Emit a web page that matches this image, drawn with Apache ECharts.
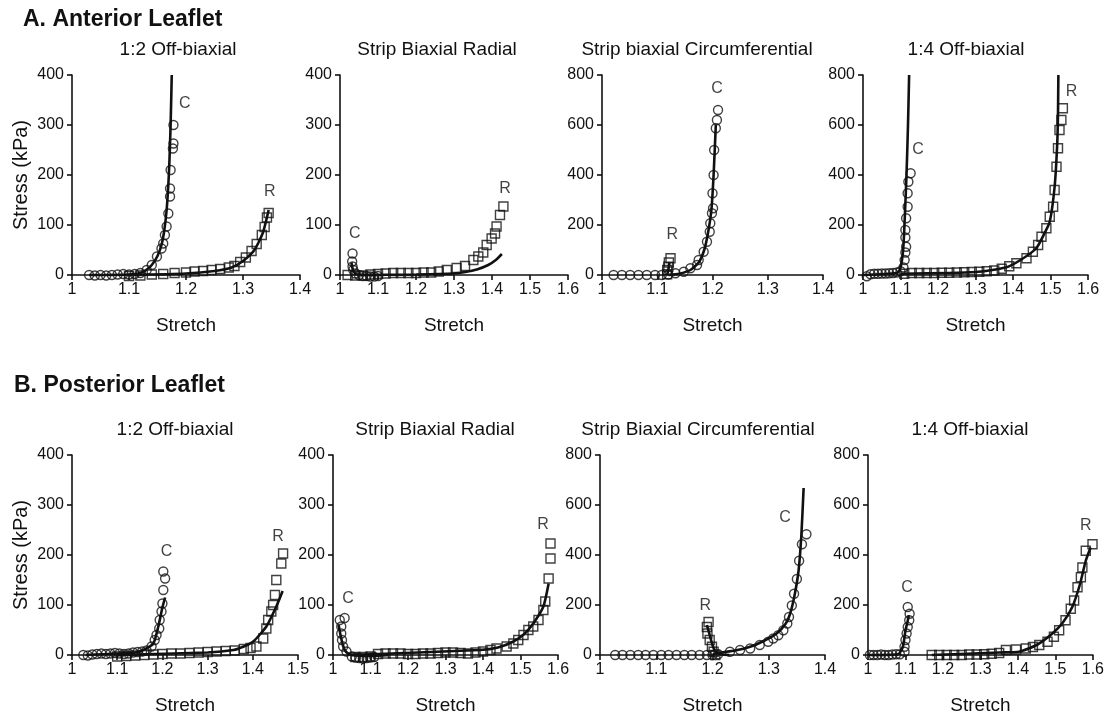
<!DOCTYPE html>
<html>
<head>
<meta charset="utf-8">
<script src="https://cdn.jsdelivr.net/npm/echarts@6/dist/echarts.min.js"></script>
<style>
html, body { margin: 0; background: #fff; }
#main { width: 1107px; height: 718px; }
</style>
</head>
<body>
<div id="main"></div>
<script>
// A. anterior leaflet - 1:2 off-biaxial
var a1C = [[1.03,0],[1.04,-1],[1.05,0],[1.06,-1],[1.07,0],[1.08,1],[1.09,2],[1.10,1],[1.11,2],[1.12,4],[1.131,10],[1.14,20],[1.149,37],[1.157,53],[1.160,63],[1.163,80],[1.166,97],[1.169,123],[1.172,157],[1.172,173],[1.173,210],[1.177,253],[1.178,263],[1.178,300]];
var a1CFit = [[1.03,0],[1.10,1],[1.12,4],[1.13,10],[1.14,20],[1.15,38],[1.157,60],[1.162,90],[1.166,130],[1.169,180],[1.171,230],[1.173,300],[1.175,400]];
var a1R = [[1.10,-2],[1.12,-1],[1.14,1],[1.16,2],[1.18,4],[1.20,5],[1.215,7],[1.23,8],[1.245,10],[1.26,12],[1.275,15],[1.285,18],[1.295,26],[1.305,35],[1.315,48],[1.324,62],[1.333,80],[1.338,96],[1.342,115],[1.345,124]];
var a1RFit = [[1.10,0],[1.20,3],[1.25,8],[1.28,15],[1.30,28],[1.32,50],[1.335,85],[1.345,130]];

// A. strip biaxial radial
var a2C = [[1.033,43],[1.032,27],[1.033,17],[1.035,10],[1.04,3],[1.05,0],[1.06,-2],[1.07,-2],[1.08,-3],[1.09,-3],[1.10,-2]];
var a2CFit = [[1.03,25],[1.035,8],[1.045,1],[1.10,0]];
var a2R = [[1.02,0],[1.04,-1],[1.06,-1],[1.08,1],[1.10,2],[1.12,3],[1.14,4],[1.16,4],[1.18,4],[1.20,4],[1.22,5],[1.24,5],[1.26,7],[1.281,10],[1.307,14],[1.329,18],[1.351,30],[1.364,37],[1.377,45],[1.386,60],[1.399,73],[1.408,83],[1.412,97],[1.421,120],[1.43,137]];
var a2RFit = [[1.05,0],[1.20,1],[1.30,3],[1.33,6],[1.36,11],[1.39,20],[1.41,30],[1.426,42]];

// A. strip biaxial circumferential
var a3C = [[1.021,0],[1.036,0],[1.051,0],[1.066,0],[1.081,0],[1.096,0],[1.108,0],[1.12,2],[1.133,7],[1.148,13],[1.160,27],[1.172,40],[1.175,60],[1.184,93],[1.19,133],[1.195,173],[1.196,207],[1.199,247],[1.201,267],[1.20,327],[1.202,400],[1.203,500],[1.206,587],[1.208,620],[1.21,660]];
var a3CFit = [[1.12,0],[1.14,5],[1.16,20],[1.175,50],[1.185,100],[1.192,170],[1.198,260],[1.202,400],[1.206,600]];
var a3R = [[1.118,3],[1.118,20],[1.12,33],[1.121,50],[1.124,67]];
var a3RFit = [[1.118,0],[1.12,20],[1.122,50]];

// A. 1:4 off-biaxial
var a4C = [[1.01,-5],[1.02,3],[1.03,5],[1.04,5],[1.05,6],[1.06,6],[1.07,7],[1.08,8],[1.09,10],[1.10,15],[1.108,30],[1.111,60],[1.113,90],[1.115,113],[1.113,150],[1.113,180],[1.115,227],[1.119,273],[1.119,327],[1.121,373],[1.127,407]];
var a4CFit = [[1.0,0],[1.09,8],[1.098,20],[1.104,60],[1.108,120],[1.112,250],[1.116,400],[1.12,600],[1.123,800]];
var a4R = [[1.11,5],[1.13,8],[1.15,8],[1.17,8],[1.19,8],[1.21,9],[1.23,9],[1.25,10],[1.27,11],[1.29,12],[1.31,13],[1.33,15],[1.35,18],[1.37,25],[1.39,35],[1.409,47],[1.436,67],[1.453,93],[1.467,120],[1.476,153],[1.489,187],[1.498,233],[1.507,273],[1.511,340],[1.516,433],[1.52,507],[1.524,580],[1.529,620],[1.533,667]];
var a4RFit = [[1.10,5],[1.30,12],[1.38,30],[1.42,60],[1.462,107],[1.485,170],[1.498,213],[1.511,353],[1.518,527],[1.52,650],[1.521,800]];

// B. posterior leaflet - 1:2 off-biaxial
var b1C = [[1.025,0],[1.035,-1],[1.045,1],[1.055,2],[1.065,3],[1.075,2],[1.085,3],[1.095,4],[1.105,3],[1.115,2],[1.125,3],[1.135,5],[1.145,6],[1.155,7],[1.165,9],[1.176,17],[1.183,30],[1.187,40],[1.193,53],[1.194,70],[1.198,87],[1.20,103],[1.202,130],[1.206,153],[1.202,167]];
var b1CFit = [[1.03,0],[1.14,5],[1.158,10],[1.18,23],[1.191,57],[1.20,95],[1.206,115]];
var b1R = [[1.10,-3],[1.12,-2],[1.14,-1],[1.16,0],[1.18,1],[1.20,2],[1.22,3],[1.24,3],[1.26,4],[1.28,5],[1.30,6],[1.32,7],[1.34,8],[1.36,9],[1.38,12],[1.395,14],[1.408,17],[1.423,33],[1.43,53],[1.434,70],[1.441,87],[1.445,100],[1.449,120],[1.452,150],[1.463,183],[1.467,203]];
var b1RFit = [[1.10,0],[1.30,5],[1.357,10],[1.38,17],[1.401,27],[1.43,57],[1.452,97],[1.466,128]];

// B. strip biaxial radial
var b2C = [[1.018,70],[1.031,74],[1.022,57],[1.022,43],[1.024,30],[1.027,17],[1.036,7],[1.05,-3],[1.06,-5],[1.07,-6],[1.08,-7],[1.09,-6],[1.10,-5],[1.11,-4]];
var b2CFit = [[1.015,60],[1.02,40],[1.027,18],[1.035,6],[1.05,0],[1.10,-2],[1.15,0]];
var b2R = [[1.06,-4],[1.08,-4],[1.10,-3],[1.12,2],[1.14,3],[1.16,3],[1.18,3],[1.20,2],[1.22,2],[1.24,3],[1.26,3],[1.28,4],[1.30,5],[1.32,5],[1.34,4],[1.36,3],[1.38,5],[1.40,7],[1.42,10],[1.436,13],[1.463,17],[1.481,23],[1.494,30],[1.508,40],[1.521,50],[1.534,57],[1.548,70],[1.561,90],[1.566,107],[1.575,153],[1.58,193],[1.58,223]];
var b2RFit = [[1.05,0],[1.391,10],[1.44,15],[1.481,27],[1.51,42],[1.534,63],[1.561,97],[1.575,143]];

// B. strip biaxial circumferential
var b3C = [[1.027,0],[1.04,0],[1.054,0],[1.068,0],[1.081,0],[1.095,0],[1.109,0],[1.122,0],[1.136,0],[1.15,0],[1.163,0],[1.177,0],[1.19,0],[1.20,0],[1.21,3],[1.231,13],[1.249,20],[1.267,26],[1.284,40],[1.299,53],[1.308,66],[1.317,79],[1.326,99],[1.333,126],[1.336,152],[1.341,198],[1.345,245],[1.35,304],[1.354,377],[1.359,443],[1.367,483]];
var b3CFit = [[1.20,0],[1.207,7],[1.24,18],[1.267,33],[1.29,55],[1.314,86],[1.33,125],[1.338,165],[1.346,240],[1.353,337],[1.358,480],[1.362,668]];
var b3R = [[1.193,132],[1.19,112],[1.191,86],[1.195,60],[1.199,33],[1.202,13],[1.205,0]];
var b3RFit = [[1.19,120],[1.195,80],[1.20,40],[1.205,15],[1.215,3],[1.23,0]];

// B. 1:4 off-biaxial
var b4C = [[1.005,0],[1.015,0],[1.025,0],[1.035,2],[1.045,0],[1.055,0],[1.065,2],[1.075,3],[1.085,3],[1.0975,13],[1.0975,33],[1.10,60],[1.103,86],[1.106,112],[1.11,139],[1.111,165],[1.106,192]];
var b4CFit = [[1.0,0],[1.08,3],[1.093,33],[1.10,99],[1.105,130],[1.109,159]];
var b4R = [[1.17,0],[1.19,0],[1.21,0],[1.23,0],[1.25,0],[1.27,2],[1.29,2],[1.31,3],[1.33,5],[1.35,8],[1.368,20],[1.395,22],[1.421,26],[1.44,32],[1.457,40],[1.479,53],[1.496,73],[1.51,99],[1.527,139],[1.541,185],[1.55,218],[1.559,271],[1.568,311],[1.572,350],[1.581,417],[1.599,443]];
var b4RFit = [[1.17,0],[1.35,10],[1.403,13],[1.45,40],[1.492,86],[1.52,130],[1.545,192],[1.565,280],[1.581,377],[1.594,430]];

// curve tags (C / R) in data units
var tagsA1 = [[1.198,343,'C'],[1.347,167,'R']];
var tagsA2 = [[1.039,83,'C'],[1.434,173,'R']];
var tagsA3 = [[1.208,747,'C'],[1.127,160,'R']];
var tagsA4 = [[1.147,500,'C'],[1.556,733,'R']];
var tagsB1 = [[1.209,207,'C'],[1.456,237,'R']];
var tagsB2 = [[1.04,113,'C'],[1.56,260,'R']];
var tagsB3 = [[1.329,549,'C'],[1.187,198,'R']];
var tagsB4 = [[1.104,271,'C'],[1.581,516,'R']];

var panelTitles = ['1:2 Off-biaxial','Strip Biaxial Radial','Strip biaxial Circumferential','1:4 Off-biaxial',
                   '1:2 Off-biaxial','Strip Biaxial Radial','Strip Biaxial Circumferential','1:4 Off-biaxial'];
var xMaxes = [1.4, 1.6, 1.4, 1.6, 1.5, 1.6, 1.4, 1.6];
var yMaxes = [400, 400, 800, 800, 400, 400, 800, 800];

var FONT = '"Liberation Sans", Arial, sans-serif';
var INK = '#111';

var panels = [
	{grid:{left:72, top:75, width:228, height:200}, c:a1C, cFit:a1CFit, r:a1R, rFit:a1RFit, tags:tagsA1, tx:178, ty:50},
	{grid:{left:340, top:75, width:228, height:200}, c:a2C, cFit:a2CFit, r:a2R, rFit:a2RFit, tags:tagsA2, tx:437, ty:50},
	{grid:{left:602, top:75, width:221, height:200}, c:a3C, cFit:a3CFit, r:a3R, rFit:a3RFit, tags:tagsA3, tx:697, ty:50},
	{grid:{left:863, top:75, width:225, height:200}, c:a4C, cFit:a4CFit, r:a4R, rFit:a4RFit, tags:tagsA4, tx:966, ty:50},
	{grid:{left:72, top:455, width:226, height:200}, c:b1C, cFit:b1CFit, r:b1R, rFit:b1RFit, tags:tagsB1, tx:175, ty:430},
	{grid:{left:333, top:455, width:225, height:200}, c:b2C, cFit:b2CFit, r:b2R, rFit:b2RFit, tags:tagsB2, tx:435, ty:430},
	{grid:{left:600, top:455, width:225, height:200}, c:b3C, cFit:b3CFit, r:b3R, rFit:b3RFit, tags:tagsB3, tx:698, ty:430},
	{grid:{left:868, top:455, width:226, height:200}, c:b4C, cFit:b4CFit, r:b4R, rFit:b4RFit, tags:tagsB4, tx:970, ty:430}
];

var chart = echarts.init(document.getElementById('main'));

var grids = [], xAxes = [], yAxes = [], series = [];
var graphics = [
	{type:'text', x:23, y:20, style:{text:'A. Anterior Leaflet', font:'bold 23px ' + FONT, fill:INK, textVerticalAlign:'middle'}},
	{type:'text', x:14, y:386, style:{text:'B. Posterior Leaflet', font:'bold 23px ' + FONT, fill:INK, textVerticalAlign:'middle'}}
];

var axisLine = {show:true, onZero:false, lineStyle:{color:INK, width:1.6}};
var axisTick = {show:true, length:5, lineStyle:{color:INK, width:1.6}};

for (var i in panels) {
	var p = panels[i];
	i = +i;
	grids.push(p.grid);
	xAxes.push({
		type:'value', gridIndex:i, min:1, max:xMaxes[i], interval:0.1,
		axisLine:axisLine, axisTick:axisTick, splitLine:{show:false},
		axisLabel:{color:INK, fontSize:16, fontFamily:FONT, margin:7,
			formatter:function(v){ return String(+v.toFixed(1)); }},
		name:'Stretch', nameLocation:'middle', nameGap:41,
		nameTextStyle:{color:INK, fontSize:19, fontFamily:FONT}
	});
	yAxes.push({
		type:'value', gridIndex:i, min:0, max:yMaxes[i], interval:yMaxes[i] / 4,
		axisLine:axisLine, axisTick:axisTick, splitLine:{show:false},
		axisLabel:{color:INK, fontSize:16, fontFamily:FONT, margin:8},
		name:(i % 4 == 0) ? 'Stress (kPa)' : '', nameLocation:'middle', nameGap:41,
		nameTextStyle:{color:INK, fontSize:20, fontFamily:FONT}
	});
	graphics.push({type:'text', x:p.tx, y:p.ty,
		style:{text:panelTitles[i], font:'19px ' + FONT, fill:INK, textAlign:'center', textVerticalAlign:'middle'}});

	var fits = [p.cFit, p.rFit];
	for (var k = 0; k < 2; k++) {
		series.push({
			type:'line', xAxisIndex:i, yAxisIndex:i, data:fits[k], showSymbol:false,
			smooth:0.2, clip:false, silent:true, z:3,
			lineStyle:{color:INK, width:2.6}
		});
	}
	series.push({
		type:'scatter', xAxisIndex:i, yAxisIndex:i, data:p.c, symbol:'circle', symbolSize:9,
		clip:false, silent:true, z:4,
		itemStyle:{color:'rgba(255,255,255,0)', borderColor:INK, borderWidth:1.4}
	});
	series.push({
		type:'scatter', xAxisIndex:i, yAxisIndex:i, data:p.r, symbol:'rect', symbolSize:9,
		clip:false, silent:true, z:4,
		itemStyle:{color:'rgba(255,255,255,0)', borderColor:INK, borderWidth:1.4}
	});
	series.push({
		type:'scatter', xAxisIndex:i, yAxisIndex:i, data:p.tags, symbolSize:0,
		clip:false, silent:true, z:5,
		label:{show:true, position:'inside', color:INK, fontSize:16, fontFamily:FONT,
			formatter:function(q){ return q.value[2]; }}
	});
}

chart.setOption({
	animation:false,
	backgroundColor:'#fff',
	grid:grids,
	xAxis:xAxes,
	yAxis:yAxes,
	series:series,
	graphic:graphics
});
</script>
</body>
</html>
